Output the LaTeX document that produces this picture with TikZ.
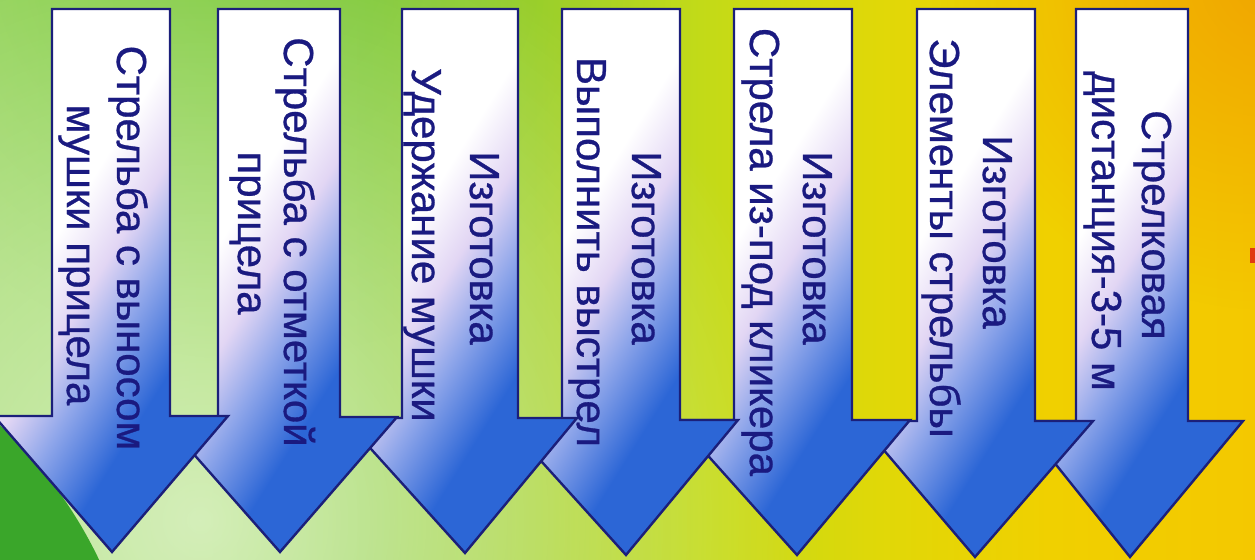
\documentclass[tikz,border=0pt]{standalone}
\usepackage{fontspec}
\setmainfont{Liberation Sans}
\newfontface\labelface{Liberation Sans}[FakeBold=0.7]
\usetikzlibrary{fadings}

% palette
\definecolor{outline}{HTML}{1B1F7A}
\definecolor{labelblue}{HTML}{1A1A80}
\definecolor{arrblue}{HTML}{2C66D6}
\definecolor{arrmid}{HTML}{8FA6EA}
\definecolor{arrlav}{HTML}{E2D6F4}
\definecolor{g0}{HTML}{9CD862}
\definecolor{g1}{HTML}{94D650}
\definecolor{g2}{HTML}{8CCF3C}
\definecolor{g3}{HTML}{A4D22A}
\definecolor{g4}{HTML}{C2DA18}
\definecolor{g5}{HTML}{E0D808}
\definecolor{g6}{HTML}{F0D000}
\definecolor{g7}{HTML}{F4C800}
\definecolor{deepgreen}{HTML}{3AA62A}
\definecolor{topgreen}{HTML}{6CC030}
\definecolor{toporange}{HTML}{F0A000}
\definecolor{redmark}{HTML}{E03A10}

% background wash, left to right
\pgfdeclarehorizontalshading{bgwash}{100bp}{%
  color(0bp)=(g0); color(25bp)=(g0); color(33bp)=(g1); color(39.7bp)=(g2);
  color(46.5bp)=(g3); color(52.9bp)=(g4); color(60bp)=(g5);
  color(66.8bp)=(g6); color(75bp)=(g7); color(100bp)=(g7)}

% arrow body: white at the top left, blue at the bottom right
\pgfdeclareverticalshading{arrowgrad}{100bp}{%
  color(0bp)=(arrblue); color(36bp)=(arrblue); color(45bp)=(arrmid);
  color(52bp)=(arrlav); color(60bp)=(white); color(100bp)=(white)}

\tikzfading[name=softglow, inner color=transparent!0, outer color=transparent!100]

\tikzset{
  arrowbody/.style={shading=arrowgrad, shading angle=58, draw=outline,
    line width=1.2pt, line join=miter},
  lbl/.style={rotate=-90, anchor=base, inner sep=0pt, text=labelblue,
    font=\labelface\fontsize{21}{25}\selectfont}
}

% #1 centre, #2 tip x, #3 shaft bottom, #4 tip y, #5 shaft half width, #6 head half width
\newcommand\shotarrow[6]{%
  \shade[arrowbody] (#1-#5,9) -- (#1+#5,9) -- (#1+#5,#3) -- (#1+#6,#3)
    -- (#2,#4) -- (#1-#6,#3) -- (#1-#5,#3) -- cycle;}

\begin{document}
\begin{tikzpicture}[x=0.5pt, y=-0.5pt]
  \useasboundingbox (0,0) rectangle (1255,560);
  \clip (0,0) rectangle (1255,560);

  % background
  \shade[shading=bgwash] (0,0) rectangle (1255,560);
  \fill[topgreen, opacity=0.55, path fading=softglow] (250,-60) circle (420);
  \fill[toporange, opacity=0.85, path fading=softglow] (1270,-20) circle (330);
  \fill[white, opacity=0.6, path fading=softglow] (200,520) circle (620);
  \fill[deepgreen] (-300,750) circle (442);
  \fill[redmark] (1250,248) rectangle (1255,263);

  % arrows, right to left so each one lies over its right neighbour
  \shotarrow{1132}{1130}{421}{557}{56}{111}
  \node[lbl] (a7top) at (1142,225) {Стрелковая};
  \node[lbl] (a7bot) at (1092,231) {дистанция-3-5 м};

  \shotarrow{976}{975}{421}{557}{59}{117}
  \node[lbl] (a6top) at (983,232) {Изготовка};
  \node[lbl] (a6bot) at (930,238) {Элементы стрельбы};

  \shotarrow{793}{797}{420}{555}{59}{117}
  \node[lbl] (a5top) at (803,248) {Изготовка};
  \node[lbl] (a5bot) at (750,252) {Стрела из-под кликера};

  \shotarrow{621}{626}{420}{555}{59}{117}
  \node[lbl] (a4top) at (632,248) {Изготовка};
  \node[lbl] (a4bot) at (577,252) {Выполнить выстрел};

  \shotarrow{460}{465}{418}{553}{58}{117}
  \node[lbl] (a3top) at (470,248) {Изготовка};
  \node[lbl] (a3bot) at (412,245) {Удержание мушки};

  \shotarrow{279}{280}{417}{552}{61}{118}
  \node[lbl] (a2top) at (284,242) {Стрельба с отметкой};
  \node[lbl] (a2bot) at (238,233) {прицела};

  \shotarrow{111}{112}{416}{552}{59}{117}
  \node[lbl] (a1top) at (117,248) {Стрельба с выносом};
  \node[lbl] (a1bot) at (67,255) {мушки прицела};
\end{tikzpicture}
\end{document}
